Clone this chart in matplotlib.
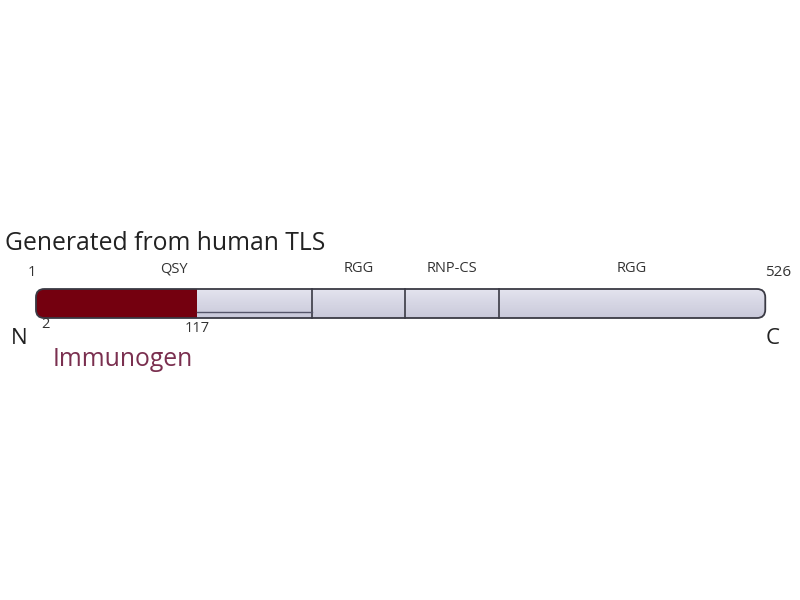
import matplotlib
matplotlib.use("Agg")
import matplotlib.pyplot as plt
import numpy as np
from matplotlib.patches import FancyBboxPatch, Rectangle

# protein length and domain layout (amino acid positions)
prot_start = 1
prot_end = 526
domain_names = ["QSY", "RGG", "RNP-CS", "RGG"]
domain_starts = [1, 200, 267, 334]
domain_ends = [200, 267, 334, 526]
immunogen = [2, 117]

plt.rcParams["font.family"] = ["Open Sans", "DejaVu Sans"]

fig = plt.figure(figsize=(8, 6), dpi=100)
ax = fig.add_axes([0, 0, 1, 1])
ax.set_xlim(-24.9, 551)
ax.set_ylim(600, 0)   # y in pixel units, top down
ax.axis("off")

bar_top = 289
bar_h = 29

# main bar, light lavender with a soft vertical gradient
body = FancyBboxPatch((prot_start, bar_top), prot_end - prot_start, bar_h,
                      boxstyle="round,pad=0,rounding_size=6", mutation_aspect=1.389,
                      facecolor="none", edgecolor="#3a3a44", linewidth=1.3, zorder=3)
ax.add_patch(body)
grad = np.linspace(0, 1, 50).reshape(-1, 1)
im = ax.imshow(grad, extent=(prot_start, prot_end, bar_top + bar_h, bar_top),
               cmap=matplotlib.colors.LinearSegmentedColormap.from_list("g", ["#e4e4ee", "#c8c8da"]),
               aspect="auto", zorder=1)
im.set_clip_path(body)

# immunogen region in dark red
red = Rectangle((prot_start, bar_top), immunogen[1] - prot_start, bar_h,
                facecolor="#74000f", edgecolor="none", zorder=2)
ax.add_patch(red)
red.set_clip_path(body)

# domain separators
for s in domain_starts[1:]:
    ax.plot([s, s], [bar_top, bar_top + bar_h], color="#3a3a44", lw=1.2, zorder=4)
# thin line under the QSY part
ax.plot([immunogen[1], domain_ends[0]], [bar_top + 23, bar_top + 23], color="#55556a", lw=1.0, zorder=4)

# domain labels
for name, s, e in zip(domain_names, domain_starts, domain_ends):
    ax.text((s + e) / 2, 269, name, ha="center", va="center", fontsize=10.5, color="#333333")

ax.text(prot_start - 3, 272, "1", ha="center", va="center", fontsize=10.5, color="#333333")
ax.text(prot_end + 9, 273, str(prot_end), ha="center", va="center", fontsize=11, color="#333333")
ax.text(immunogen[0] + 6, 325, str(immunogen[0]), ha="center", va="center", fontsize=10.5, color="#333333")
ax.text(immunogen[1], 328, str(immunogen[1]), ha="center", va="center", fontsize=10.5, color="#333333")
ax.text(-11, 339, "N", ha="center", va="center", fontsize=16, color="#222222")
ax.text(531, 339, "C", ha="center", va="center", fontsize=16, color="#222222")

ax.text(-21, 244, "Generated from human TLS", ha="left", va="center", fontsize=17.8, color="#222222")
ax.text(13, 359, "Immunogen", ha="left", va="center", fontsize=17.8, color="#7a2f4f")

fig.savefig("out.png", dpi=100)
